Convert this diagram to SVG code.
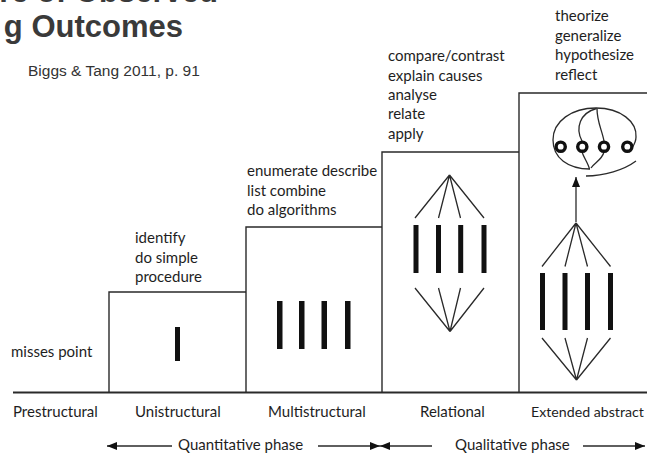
<svg xmlns="http://www.w3.org/2000/svg" width="647" height="457" viewBox="0 0 647 457">
  <style>
    .title { font-family: "Liberation Sans", Arial, sans-serif; font-weight: bold; font-size: 31px; fill: #3a3a3a; }
    .cite { font-family: "Liberation Sans", Arial, sans-serif; font-size: 15.5px; fill: #333; }
    .lbl { font-family: Lato, "Open Sans", sans-serif; font-size: 15px; fill: #1e1e1e; }
    .box { fill: none; stroke: #2a2a2a; stroke-width: 1.4; }
    .base { fill: none; stroke: #2a2a2a; stroke-width: 2; }
    .bar { fill: #111; }
    .fan { fill: none; stroke: #2a2a2a; stroke-width: 1.3; }
    .ring { fill: none; stroke: #111; stroke-width: 3.4; }
    .arr { fill: none; stroke: #2a2a2a; stroke-width: 1.3; }
  </style>
  <defs>
    <marker id="head" viewBox="0 0 10 8" refX="10" refY="4" markerWidth="10" markerHeight="8" markerUnits="userSpaceOnUse" orient="auto">
      <path d="M0,0 L10,4 L0,8 Z" fill="#111"/>
    </marker>
  </defs>

  <rect width="647" height="457" fill="#fff"/>

  <!-- heading -->
  <g id="heading">
    <text class="title" x="218" y="2" text-anchor="end">re of Observed</text>
    <text class="title" x="183" y="37" text-anchor="end">g Outcomes</text>
    <text class="cite" x="28" y="76">Biggs &amp; Tang 2011, p. 91</text>
  </g>

  <!-- ground line and phase arrows -->
  <g id="connectors">
    <line class="base" x1="13" y1="392.5" x2="647" y2="392.5"/>
    <line class="arr" x1="172" y1="446" x2="107" y2="446" marker-end="url(#head)"/>
    <line class="arr" x1="318" y1="446" x2="380" y2="446" marker-end="url(#head)"/>
    <line class="arr" x1="432" y1="446" x2="380" y2="446" marker-end="url(#head)"/>
    <line class="arr" x1="583" y1="446" x2="645" y2="446" marker-end="url(#head)"/>
  </g>

  <!-- Prestructural -->
  <g id="prestructural">
    <text class="lbl" x="11" y="357">misses point</text>
    <text class="lbl" x="13" y="416.5">Prestructural</text>
  </g>

  <!-- Unistructural -->
  <g id="unistructural">
    <path class="box" d="M109,392.5 V292 H246"/>
    <rect class="bar" x="175" y="327" width="5" height="34"/>
    <text class="lbl" x="135" y="243">identify</text>
    <text class="lbl" x="135" y="262.5">do simple</text>
    <text class="lbl" x="135" y="282">procedure</text>
    <text class="lbl" x="135" y="416.5">Unistructural</text>
  </g>

  <!-- Multistructural -->
  <g id="multistructural">
    <path class="box" d="M246,392.5 V227 H382"/>
    <rect class="bar" x="277" y="301" width="5.5" height="48"/>
    <rect class="bar" x="299" y="301" width="5.5" height="48"/>
    <rect class="bar" x="321.5" y="301" width="5.5" height="48"/>
    <rect class="bar" x="345" y="301" width="5.5" height="48"/>
    <text class="lbl" x="247" y="176">enumerate describe</text>
    <text class="lbl" x="247" y="195.5">list combine</text>
    <text class="lbl" x="247" y="215">do algorithms</text>
    <text class="lbl" x="268" y="416.5">Multistructural</text>
  </g>

  <!-- Relational -->
  <g id="relational">
    <path class="box" d="M382,392.5 V152 H519"/>
    <path class="fan" d="M415,218 L449.5,175 L438.5,218 M449.5,175 L460.5,218 M449.5,175 L484,218"/>
    <rect class="bar" x="413.5" y="225" width="5" height="48"/>
    <rect class="bar" x="436" y="225" width="5" height="48"/>
    <rect class="bar" x="458.2" y="225" width="5" height="48"/>
    <rect class="bar" x="481.5" y="225" width="5" height="48"/>
    <path class="fan" d="M415,288 L450,331.5 L438.5,288 M450,331.5 L460.5,288 M450,331.5 L484,288"/>
    <text class="lbl" x="388" y="61">compare/contrast</text>
    <text class="lbl" x="388" y="80.5">explain causes</text>
    <text class="lbl" x="388" y="99.5">analyse</text>
    <text class="lbl" x="388" y="119">relate</text>
    <text class="lbl" x="388" y="138.5">apply</text>
    <text class="lbl" x="420" y="416.5">Relational</text>
  </g>

  <!-- Extended abstract -->
  <g id="extended-abstract">
    <path class="box" d="M519,392.5 V93 H647"/>
    <!-- enclosing boundary with linked elements -->
    <path class="fan" d="M590,169 C568,169 553,158 553,140 C553,121 572,108 596,108 C621,108 637,122 636,137 C636,142 634,145 632,148"/>
    <path class="fan" d="M586,176 C604,176 624,170 636,161"/>
    <path class="fan" d="M596.5,108.5 C580,113 575,128 582,141"/>
    <path class="fan" d="M597,108.5 C597,122 602,130 604,141"/>
    <path class="fan" d="M582,152 C584,158 588,163 589.5,169"/>
    <path class="fan" d="M604,152 C602,160 594,163 591,168"/>
    <circle class="ring" cx="560.7" cy="146.7" r="4.6"/>
    <circle class="ring" cx="582.3" cy="146.7" r="4.6"/>
    <circle class="ring" cx="604" cy="146.7" r="4.6"/>
    <circle class="ring" cx="627.3" cy="146.7" r="4.6"/>
    <line class="arr" x1="576" y1="222" x2="576" y2="177" marker-end="url(#head)"/>
    <path class="fan" d="M542,266.5 L576,223 L565,266.5 M576,223 L587.5,266.5 M576,223 L610.5,266.5"/>
    <rect class="bar" x="540" y="273" width="5" height="57"/>
    <rect class="bar" x="562.5" y="273" width="5" height="57"/>
    <rect class="bar" x="585" y="273" width="5" height="57"/>
    <rect class="bar" x="608" y="273" width="5" height="57"/>
    <path class="fan" d="M542,338 L576.5,380 L565,338 M576.5,380 L587.5,338 M576.5,380 L610.5,338"/>
    <text class="lbl" x="555" y="21">theorize</text>
    <text class="lbl" x="555" y="40.5">generalize</text>
    <text class="lbl" x="555" y="60">hypothesize</text>
    <text class="lbl" x="555" y="79.5">reflect</text>
    <text class="lbl" x="531" y="416.5" style="font-size:14.2px">Extended abstract</text>
  </g>

  <!-- phase captions -->
  <g id="phases">
    <text class="lbl" x="178" y="450">Quantitative phase</text>
    <text class="lbl" x="455" y="450">Qualitative phase</text>
  </g>
</svg>
